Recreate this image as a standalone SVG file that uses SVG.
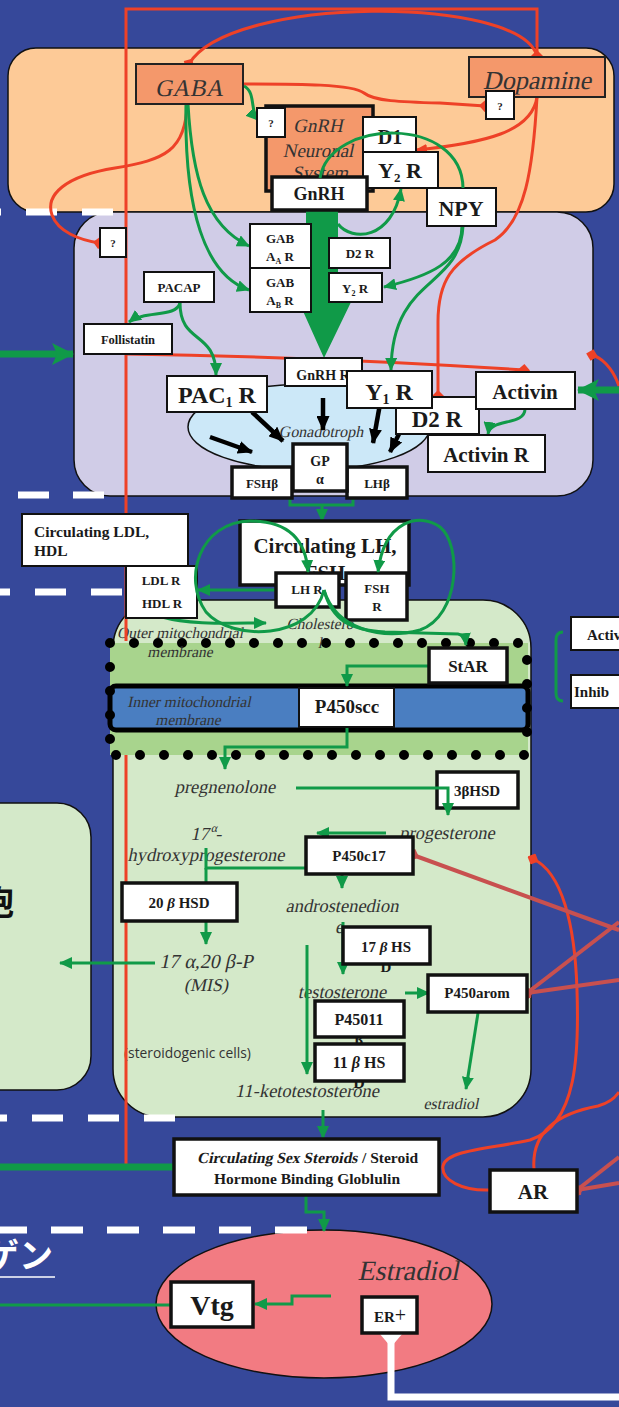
<svg xmlns="http://www.w3.org/2000/svg" width="619" height="1407" viewBox="0 0 619 1407">
<defs>
<style>
.bx{fill:#fff;stroke:#111;stroke-width:2}
.tb{fill:#fff;stroke:#111;stroke-width:3.5}
.sal{fill:#f4986b;stroke:#222;stroke-width:2}
.lb{font-family:"Liberation Serif",serif;font-weight:bold;fill:#1a1a1a;text-anchor:middle}
.it{font-family:"Liberation Serif",serif;fill:#333;text-anchor:middle}
.g{fill:none;stroke:#109a48;stroke-width:3}
.gt{fill:none;stroke:#109a48;stroke-width:7}
.r{fill:none;stroke:#ee4127;stroke-width:3}
.br{fill:none;stroke:#c8504f;stroke-width:4}
.k{fill:none;stroke:#000;stroke-width:4.5}
.dl{stroke:#fff;stroke-width:7}
.dots{fill:none;stroke:#000;stroke-width:10;stroke-linecap:round;stroke-dasharray:0 24}
</style>
<marker id="ga" markerUnits="userSpaceOnUse" viewBox="0 0 13 12" markerWidth="13" markerHeight="12" refX="12" refY="6" orient="auto"><path d="M0,0 L13,6 L0,12 z" fill="#109a48"/></marker>
<marker id="gb" markerUnits="userSpaceOnUse" viewBox="0 0 22 22" markerWidth="22" markerHeight="22" refX="21" refY="11" orient="auto"><path d="M0,0 L22,11 L0,22 L5,11 z" fill="#109a48"/></marker>
<marker id="ka" markerUnits="userSpaceOnUse" viewBox="0 0 15 13" markerWidth="15" markerHeight="13" refX="14" refY="6.5" orient="auto"><path d="M0,0 L15,6.5 L0,13 z" fill="#000"/></marker>
<marker id="rd" markerUnits="userSpaceOnUse" viewBox="0 0 12 12" markerWidth="12" markerHeight="12" refX="6" refY="6" orient="auto"><path d="M0,6 L6,0 L12,6 L6,12 z" fill="#ee4127"/></marker>
<marker id="rt" markerUnits="userSpaceOnUse" viewBox="0 0 12 10" markerWidth="12" markerHeight="10" refX="11" refY="5" orient="auto"><path d="M0,0 L12,5 L0,10 z" fill="#ee4127"/></marker>
<marker id="bd" markerUnits="userSpaceOnUse" viewBox="0 0 13 13" markerWidth="13" markerHeight="13" refX="6.5" refY="6.5" orient="auto"><path d="M0,6.5 L6.5,0 L13,6.5 L6.5,13 z" fill="#c8504f"/></marker>
</defs>

<rect width="619" height="1407" fill="#36489a"/>

<g id="regions">
<rect id="hypothalamus" x="8" y="48" width="606" height="164" rx="28" fill="#fdca97" stroke="#111" stroke-width="1.5"/>
<rect id="pituitary" x="74" y="212" width="519" height="284" rx="36" fill="#d0cce7" stroke="#111" stroke-width="1.5"/>
<rect id="left-cell" x="-40" y="803" width="131" height="287" rx="34" fill="#d4e9c9" stroke="#111" stroke-width="1.5"/>
<rect id="gonad" x="113" y="600" width="418" height="517" rx="48" fill="#d4e9c9" stroke="#111" stroke-width="1.5"/>
<ellipse id="target-cell" cx="324" cy="1304" rx="168" ry="74" fill="#f27b82" stroke="#111" stroke-width="1.5"/>
<text x="14" y="915" font-family="'Noto Sans CJK JP',sans-serif" font-weight="bold" font-size="34" text-anchor="end" fill="#111">細胞</text>
<text x="53" y="1268" font-family="'Noto Sans CJK JP',sans-serif" font-weight="bold" font-size="34" text-anchor="end" fill="#fff">エストロゲン</text>
<line x1="0" y1="1277" x2="55" y2="1277" stroke="#fff" stroke-width="1.5"/>
</g>

<g id="dashes">
<line class="dl" x1="-30" y1="212" x2="113" y2="212" stroke-dasharray="31 25"/>
<line class="dl" x1="-37" y1="495" x2="104" y2="495" stroke-dasharray="31 24"/>
<line class="dl" x1="-21" y1="592" x2="122" y2="592" stroke-dasharray="31 25"/>
<line class="dl" x1="-24" y1="1118" x2="175" y2="1118" stroke-dasharray="31 25"/>
<line class="dl" x1="-5" y1="1230" x2="307" y2="1230" stroke-dasharray="32 24"/>
</g>

<g id="mitochondrion">
<rect x="110" y="643" width="418" height="112" fill="#a8d48d"/>
<rect x="110" y="686" width="418" height="44" rx="6" fill="#4a7ec1" stroke="#000" stroke-width="5"/>
<path class="dots" d="M110,643 L528,643"/>
<path class="dots" d="M116,755 L528,755"/>
<path class="dots" d="M110,667 L110,742"/>
<path class="dots" d="M527,660 L527,736"/>
</g>

<polygon id="gnrh-release" points="306,210 338,210 338,300 352,300 324,358 298,300 306,300" fill="#109a48"/>
<g id="gonadotroph"><ellipse cx="309" cy="427" rx="121" ry="43" fill="#cce8f8" stroke="#111" stroke-width="1.5"/>
<text class="it" transform="translate(321 437) skewX(-12)" font-size="16" fill="#444">Gonadotroph</text></g>

<g id="labels">
<text class="it" transform="translate(320 629) skewX(-12)" font-size="15.5">Cholestero</text>
<text class="it" transform="translate(320 648) skewX(-12)" font-size="15.5">l</text>
<text class="it" transform="translate(180 638) skewX(-12)" font-size="15.5">Outer mitochondrial</text>
<text class="it" transform="translate(180 657) skewX(-12)" font-size="15.5">membrane</text>
<text class="it" transform="translate(189 707) skewX(-12)" font-size="15.5">Inner mitochondrial</text>
<text class="it" transform="translate(188 725) skewX(-12)" font-size="15.5">membrane</text>
<text class="it" transform="translate(225 793) skewX(-12)" font-size="18.5">pregnenolone</text>
<text class="it" transform="translate(447 839) skewX(-12)" font-size="18.5">progesterone</text>
<text class="it" transform="translate(206 840) skewX(-12)" font-size="18.5">17<tspan font-size="12" dy="-8">α</tspan><tspan dy="8">-</tspan></text>
<text class="it" transform="translate(206 861) skewX(-12)" font-size="18.5">hydroxyprogesterone</text>
<text class="it" transform="translate(342 912) skewX(-12)" font-size="18.5">androstenedion</text>
<text class="it" transform="translate(339 933) skewX(-12)" font-size="18.5">e</text>
<text class="it" transform="translate(206 968) skewX(-12)" font-size="20">17 α,20 β-P</text>
<text class="it" transform="translate(206 991) skewX(-12)" font-size="18">(MIS)</text>
<text class="it" transform="translate(342 998) skewX(-12)" font-size="18.5">testosterone</text>
<text class="it" transform="translate(307 1097) skewX(-12)" font-size="18.5">11-ketotestosterone</text>
<text class="it" transform="translate(451 1109) skewX(-12)" font-size="16">estradiol</text>
<text x="124" y="1058" font-family="'Open Sans',sans-serif" font-size="13.8" fill="#333">(steroidogenic cells)</text>
<text class="it" transform="translate(408 1280) skewX(-12)" font-size="28">Estradiol</text>
</g>

<g id="connectors">
<path class="r" d="M126,1167 L126,755 M126,641 L126,9 L537,9 L537,56" marker-end="url(#rd)"/>
<path class="r" d="M537,56 C520,-5 230,-5 189,64" marker-end="url(#rd)"/>
<path class="r" d="M243,84 C300,84 352,84 364,93 C374,101 400,102 440,103 L485,106" marker-end="url(#rd)"/>
<path class="r" d="M187,104 C186,150 165,160 115,168 C65,176 45,195 52,215 C58,232 80,240 99,243" marker-end="url(#rd)"/>
<path class="r" d="M537,97 C532,132 485,143 416,150" marker-end="url(#rt)"/>
<path class="r" d="M537,97 C533,170 525,220 495,240 C450,262 438,282 438,322 L438,396" marker-end="url(#rd)"/>
<path class="r" d="M126,354 C250,356 400,362 524,370" marker-end="url(#rd)"/>
<path class="r" d="M619,386 C612,366 600,357 592,355" marker-end="url(#rd)"/>
<path class="r" d="M490,1190 C462,1191 441,1180 443,1166 C446,1150 490,1149 530,1140 C578,1125 579,1050 577,990 C575,925 562,872 533,859" marker-end="url(#rd)"/>
<path class="r" d="M534,1169 C531,1130 560,1113 598,1106 C609,1103 615,1098 619,1092" stroke="#e8262a"/>
<path class="br" d="M619,930 L413,855" marker-end="url(#bd)"/>
<path class="br" d="M619,922 L527,993" marker-end="url(#bd)"/>
<path class="br" d="M619,980 L527,993" marker-end="url(#bd)"/>
<path class="br" d="M619,1157 L577,1190" marker-end="url(#bd)"/>
<path class="br" d="M619,1183 L577,1190" marker-end="url(#bd)"/>

<path class="g" d="M244,86 C256,92 250,112 258,120" marker-end="url(#ga)"/>
<path class="g" d="M188,104 C192,175 205,225 249,246" marker-end="url(#ga)"/>
<path class="g" d="M186,104 C184,210 205,275 249,290" marker-end="url(#ga)"/>
<path class="g" d="M338,224 C352,242 392,240 401,189" marker-end="url(#ga)"/>
<path class="g" d="M462,226 C462,262 430,276 384,287" marker-end="url(#ga)"/>
<path class="g" d="M463,226 C460,290 392,275 391,370" marker-end="url(#ga)"/>
<path class="g" d="M180,303 C176,318 145,310 129,322" marker-end="url(#ga)"/>
<path class="g" d="M180,303 C180,345 216,330 216,375" marker-end="url(#ga)"/>
<path class="g" d="M525,409 C525,426 490,418 488,434" marker-end="url(#ga)"/>
<path class="gt" d="M619,390 L578,390" marker-end="url(#gb)"/>
<path class="gt" d="M0,354 L73,354" marker-end="url(#gb)"/>
<path class="k" d="M210,437 L252,452" marker-end="url(#ka)"/>
<path class="k" d="M252,412 L283,441" marker-end="url(#ka)"/>
<path class="k" d="M323,398 L323,430" marker-end="url(#ka)"/>
<path class="k" d="M380,404 L373,443" marker-end="url(#ka)"/>
<path class="k" d="M408,416 L390,452" marker-end="url(#ka)"/>
<path class="g" d="M290,493 L290,505 L353,505 L353,493"/>
<path class="g" d="M322,505 L322,521" marker-end="url(#ga)"/>
<path class="g" d="M105,547 C112,560 140,555 160,565" marker-end="url(#ga)"/>
<path class="g" d="M277,590 L198,590" marker-end="url(#ga)"/>
<path class="g" d="M162,617 C190,625 230,623 266,623" marker-end="url(#ga)"/>
<path class="g" d="M430,666 L347,666 L347,686" marker-end="url(#ga)"/>
<path class="g" d="M347,727 L347,747 L225,747 L225,769" marker-end="url(#ga)"/>
<path class="g" d="M386,833 L317,833" marker-end="url(#ga)"/>
<path class="g" d="M206,848 L206,868 L342,868 L342,888" marker-end="url(#ga)"/>
<path class="g" d="M206,868 L206,886"/>
<path class="g" d="M206,922 L206,944" marker-end="url(#ga)"/>
<path class="g" d="M155,963 L60,963" stroke-width="3.5" marker-end="url(#ga)"/>
<path class="g" d="M343,922 L343,974" marker-end="url(#ga)"/>
<path class="g" d="M307,945 L307,1074" marker-end="url(#ga)"/>
<path class="g" d="M405,993 L429,993" stroke-width="4" marker-end="url(#ga)"/>
<path class="g" d="M478,1013 L466,1089" marker-end="url(#ga)"/>
<path class="g" d="M323,1110 L323,1138" marker-end="url(#ga)"/>
<path class="gt" d="M0,1167 L174,1167"/>
<path class="g" d="M306,1195 L306,1212 L324,1212 L324,1231" marker-end="url(#ga)"/>
<path class="g" d="M331,1296 L292,1296 L292,1304 L255,1304" stroke-width="3.5" marker-end="url(#ga)"/>
<path class="g" d="M0,1305 L171,1305" stroke-width="4"/>
<path d="M391,1340 L391,1397 L619,1397" fill="none" stroke="#fff" stroke-width="7"/>
<polygon points="379,1333 403,1333 391,1347" fill="#fff"/>
<path class="g" d="M563,632 Q556,632 556,640 L556,693 Q556,701 563,701"/>
</g>

<g id="hypothalamus-nodes">
<g id="GABA"><rect class="sal" x="136" y="64" width="107" height="40"/><text class="it" transform="translate(189 96) skewX(-12)" font-size="24" fill="#2a2a2a">GABA</text></g>
<g id="Dopamine"><rect class="sal" x="469" y="57" width="136" height="40"/><text class="it" transform="translate(537 89) skewX(-12)" font-size="26" fill="#2a2a2a">Dopamine</text></g>
<g id="q-dopamine"><rect class="bx" x="486" y="91" width="28" height="28"/><text class="lb" x="500" y="110" font-size="11">?</text></g>
<g id="GnRH-neuronal"><rect x="266" y="106" width="107" height="85" fill="#f4986b" stroke="#111" stroke-width="3.5"/>
<text class="it" transform="translate(318 132) skewX(-12)" font-size="19" fill="#444">GnRH</text>
<text class="it" transform="translate(318 157) skewX(-12)" font-size="19" fill="#444">Neuronal</text>
<text class="it" transform="translate(320 179) skewX(-12)" font-size="19" fill="#444">System</text></g>
<g id="q-gnrh"><rect class="bx" x="257" y="108" width="28" height="29"/><text class="lb" x="271" y="127" font-size="11">?</text></g>
<g id="D1"><rect class="bx" x="363" y="117" width="53" height="35"/><text class="lb" x="390" y="144" font-size="20">D1</text></g>
<g id="Y2R-top"><rect class="bx" x="363" y="152" width="75" height="36"/><text class="lb" x="400" y="178" font-size="22">Y<tspan font-size="13" dy="4">2</tspan><tspan dy="-4"> R</tspan></text></g>
<g id="GnRH"><rect class="tb" x="272" y="177" width="95" height="33"/><text class="lb" x="319" y="200" font-size="18">GnRH</text></g>
<g id="NPY"><rect class="bx" x="427" y="188" width="69" height="38"/><text class="lb" x="461" y="216" font-size="22">NPY</text></g>
</g>

<g id="pituitary-nodes">
<g id="q-left"><rect class="bx" x="100" y="228" width="26" height="29"/><text class="lb" x="113" y="247" font-size="11">?</text></g>
<g id="GABAaR"><rect class="bx" x="250" y="224" width="61" height="44" stroke-width="2.5"/><text class="lb" x="280" y="243" font-size="13">GAB</text><text class="lb" x="280" y="261" font-size="13">A<tspan font-size="8" dy="3">A</tspan><tspan dy="-3"> R</tspan></text></g>
<g id="GABAbR"><rect class="bx" x="250" y="268" width="61" height="44" stroke-width="2.5"/><text class="lb" x="280" y="287" font-size="13">GAB</text><text class="lb" x="280" y="305" font-size="13">A<tspan font-size="8" dy="3">B</tspan><tspan dy="-3"> R</tspan></text></g>
<g id="D2R-small"><rect class="bx" x="329" y="238" width="61" height="30"/><text class="lb" x="360" y="258" font-size="13">D2 R</text></g>
<g id="Y2R-small"><rect class="bx" x="329" y="273" width="53" height="29"/><text class="lb" x="355" y="293" font-size="13">Y<tspan font-size="8" dy="3">2</tspan><tspan dy="-3"> R</tspan></text></g>
<g id="PACAP"><rect class="bx" x="144" y="272" width="70" height="30"/><text class="lb" x="179" y="292" font-size="13">PACAP</text></g>
<g id="Follistatin"><rect class="bx" x="84" y="324" width="88" height="30"/><text class="lb" x="128" y="344" font-size="12.5">Follistatin</text></g>
<g id="PAC1R"><rect class="bx" x="167" y="376" width="100" height="36"/><text class="lb" x="217" y="403" font-size="24">PAC<tspan font-size="14" dy="4">1</tspan><tspan dy="-4"> R</tspan></text></g>
<g id="GnRHR"><rect class="bx" x="285" y="358" width="77" height="28" stroke-width="3.5"/><text class="lb" x="323" y="380" font-size="14">GnRH R</text></g>
<g id="D2R"><rect class="bx" x="396" y="397" width="83" height="37"/><text class="lb" x="437" y="427" font-size="23">D2 R</text></g>
<g id="Y1R"><rect class="bx" x="347" y="371" width="85" height="37"/><text class="lb" x="389" y="400" font-size="24">Y<tspan font-size="14" dy="4">1</tspan><tspan dy="-4"> R</tspan></text></g>
<g id="Activin"><rect class="bx" x="476" y="372" width="99" height="37"/><text class="lb" x="525" y="399" font-size="21">Activin</text></g>
<g id="ActivinR"><rect class="bx" x="428" y="435" width="117" height="37"/><text class="lb" x="486" y="462" font-size="21">Activin R</text></g>
<g id="FSHb"><rect class="tb" x="232" y="467" width="60" height="31"/><text class="lb" x="262" y="488" font-size="13">FSHβ</text></g>
<g id="LHb"><rect class="tb" x="347" y="467" width="60" height="31"/><text class="lb" x="377" y="488" font-size="13">LHβ</text></g>
<g id="GPa"><rect class="tb" x="293" y="444" width="54" height="47"/><text class="lb" x="320" y="466" font-size="14">GP</text><text class="lb" x="320" y="484" font-size="14">α</text></g>
</g>

<g id="circulation-nodes">
<g id="CircLDL"><rect class="bx" x="22" y="514" width="166" height="52" stroke-width="3"/><text class="lb" x="34" y="537" font-size="15.5" style="text-anchor:start">Circulating LDL,</text><text class="lb" x="34" y="556" font-size="15.5" style="text-anchor:start">HDL</text></g>
<g id="LDLR"><rect class="bx" x="126" y="566" width="71" height="52" stroke-width="2.5"/><text class="lb" x="161" y="585" font-size="13">LDL R</text><text class="lb" x="162" y="608" font-size="13">HDL  R</text></g>
<g id="CircLH"><rect class="tb" x="240" y="521" width="169" height="64"/><text class="lb" x="325" y="553" font-size="21">Circulating LH,</text><text class="lb" x="325" y="580" font-size="21">FSH</text></g>
<g id="LHR"><rect class="tb" x="276" y="573" width="63" height="34"/><text class="lb" x="307" y="594" font-size="13">LH R</text></g>
<g id="FSHR"><rect class="tb" x="346" y="573" width="61" height="47"/><text class="lb" x="377" y="593" font-size="13">FSH</text><text class="lb" x="377" y="611" font-size="13">R</text></g>
</g>

<g id="gonad-nodes">
<g id="StAR"><rect class="tb" x="429" y="648" width="78" height="35"/><text class="lb" x="468" y="672" font-size="17">StAR</text></g>
<g id="P450scc"><rect class="bx" x="299" y="688" width="95" height="39"/><text class="lb" x="347" y="713" font-size="19">P450scc</text></g>
<g id="HSD3b"><rect class="tb" x="437" y="772" width="81" height="36"/><text class="lb" x="477" y="796" font-size="15">3βHSD</text></g>
<g id="P450c17"><rect class="tb" x="306" y="837" width="107" height="37"/><text class="lb" x="359" y="861" font-size="15">P450c17</text></g>
<g id="HSD20b"><rect class="tb" x="122" y="883" width="115" height="38"/><text class="lb" x="179" y="908" font-size="15">20 <tspan font-style="italic">β</tspan> HSD</text></g>
<g id="HSD17b"><text class="lb" x="386" y="972" font-size="15">D</text><rect class="tb" x="343" y="927" width="87" height="37"/><text class="lb" x="386" y="952" font-size="15">17 <tspan font-style="italic">β</tspan> HS</text></g>
<g id="P450arom"><rect class="tb" x="428" y="975" width="99" height="37"/><text class="lb" x="477" y="998" font-size="15">P450arom</text></g>
<g id="P45011"><text class="lb" x="359" y="1045" font-size="16">β</text><rect class="tb" x="315" y="1001" width="89" height="36"/><text class="lb" x="359" y="1025" font-size="16">P45011</text></g>
<g id="HSD11b"><text class="lb" x="359" y="1088" font-size="16">D</text><rect class="tb" x="315" y="1044" width="89" height="37"/><text class="lb" x="359" y="1068" font-size="16">11 <tspan font-style="italic">β</tspan> HS</text></g>
</g>

<g id="peripheral-nodes">
<g id="CircSex"><rect class="tb" x="174" y="1139" width="265" height="56"/>
<text class="lb" transform="translate(197 1163) skewX(-12)" font-size="15.5" style="text-anchor:start">Circulating Sex Steroids</text>
<text class="lb" x="362" y="1163" font-size="15.5" style="text-anchor:start">/ Steroid</text>
<text class="lb" x="307" y="1184" font-size="15.5">Hormone Binding Globlulin</text></g>
<g id="AR"><rect class="tb" x="490" y="1170" width="87" height="42"/><text class="lb" x="533" y="1199" font-size="21">AR</text></g>
<g id="Vtg"><rect class="tb" x="171" y="1282" width="82" height="45"/><text class="lb" x="212" y="1315" font-size="28">Vtg</text></g>
<g id="ER"><rect class="tb" x="362" y="1297" width="55" height="36"/><text class="lb" x="390" y="1322" font-size="15">ER<tspan font-weight="normal" font-size="20">+</tspan></text></g>
<g id="legend-activ"><rect class="bx" x="571" y="617" width="60" height="33"/><text class="lb" x="587" y="640" font-size="15" style="text-anchor:start">Activ</text></g>
<g id="legend-inhib"><rect class="bx" x="571" y="675" width="60" height="33"/><text class="lb" x="574" y="697" font-size="15" style="text-anchor:start">Inhib</text></g>
</g>

<g id="connectors-over">
<path class="g" d="M463,188 C462,115 330,118 320,178"/>
<path class="g" d="M324,590 C312,640 232,642 206,612 C182,578 200,522 250,521 C290,521 306,542 308,572" marker-end="url(#ga)"/>
<path class="g" d="M324,590 C336,630 382,640 420,630 C460,616 462,545 440,527 C420,512 384,520 378,572" marker-end="url(#ga)"/>
<path class="g" d="M324,590 C332,622 352,630 385,632 L458,634 Q465,635 466,645" marker-end="url(#ga)"/>
<path class="g" d="M296,788 L448,788 L448,815" marker-end="url(#ga)"/>
</g>
</svg>
